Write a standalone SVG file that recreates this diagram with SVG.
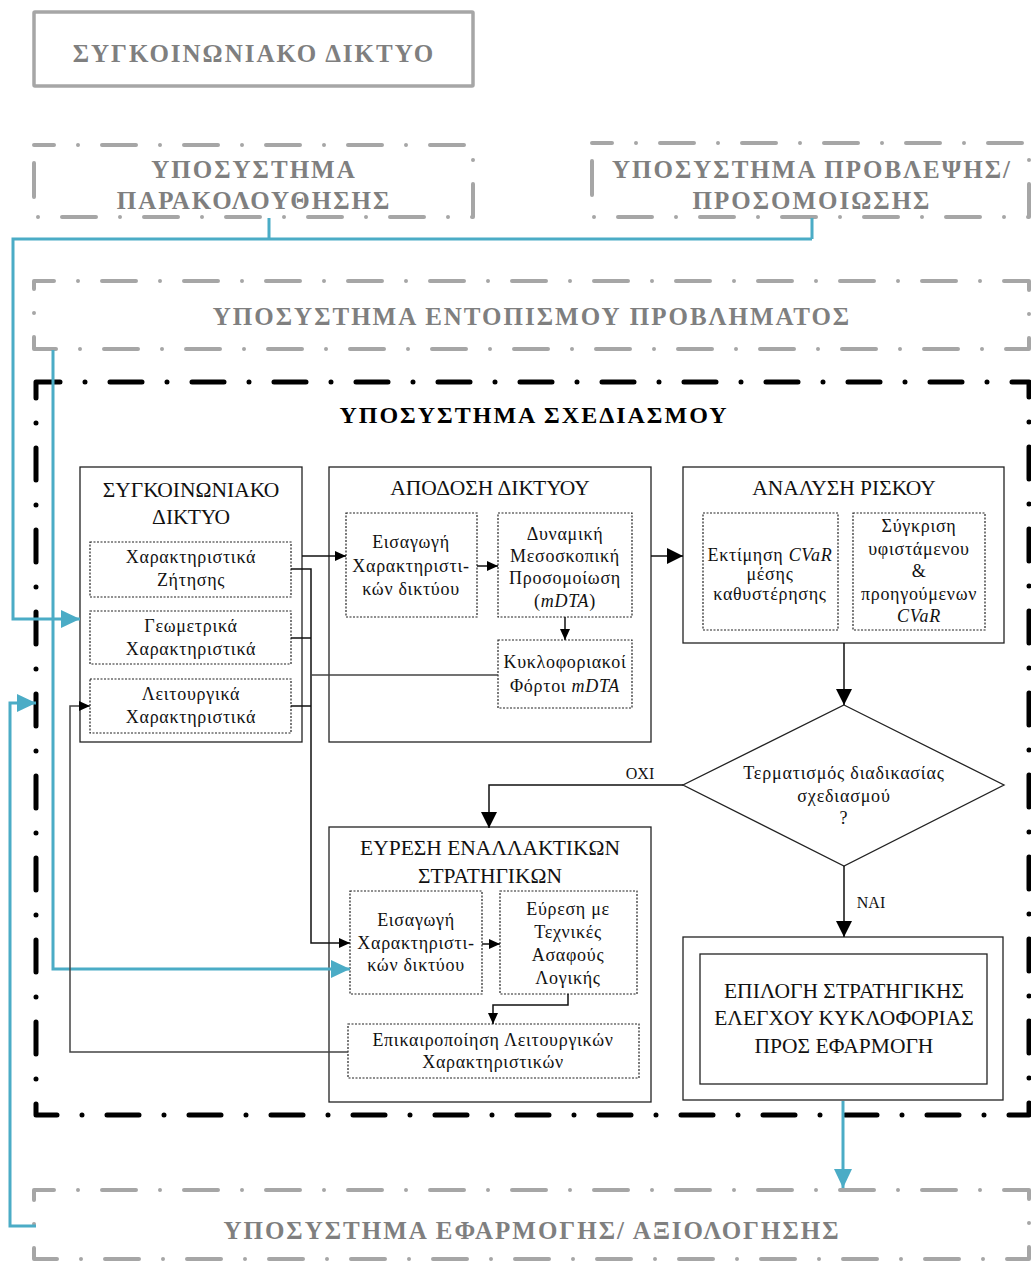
<svg xmlns="http://www.w3.org/2000/svg" width="1031" height="1261" viewBox="0 0 1031 1261">
  <style>
    .sub { fill: none; stroke: #a6a6a6; stroke-width: 4; stroke-dasharray: 34 24 0 24; stroke-linecap: round; stroke-linejoin: round; }
    .plan { fill: none; stroke: #000; stroke-width: 5; stroke-dasharray: 32 25 0 25; stroke-linecap: round; stroke-linejoin: round; }
    .subtxt { font-family: "Liberation Serif", "DejaVu Serif", serif; font-weight: bold; font-size: 25px; letter-spacing: 2px; fill: #7f7f7f; text-anchor: middle; }
    .plantxt { font-family: "Liberation Serif", "DejaVu Serif", serif; font-weight: bold; font-size: 24px; letter-spacing: 2px; fill: #000; text-anchor: middle; }
    .node { fill: #fff; stroke: #222; stroke-width: 1.3; }
    .inner { fill: #fff; stroke: #222; stroke-width: 1.2; stroke-dasharray: 2 1.5; }
    .t20 { font-family: "Liberation Serif", "DejaVu Serif", serif; font-size: 21.5px; fill: #111; text-anchor: middle; }
    .t17 { font-family: "Liberation Serif", "DejaVu Serif", serif; font-size: 18px; letter-spacing: 0.7px; fill: #111; text-anchor: middle; }
    .t18 { font-family: "Liberation Serif", "DejaVu Serif", serif; font-size: 18px; letter-spacing: 0.8px; fill: #111; text-anchor: middle; }
    .t16 { font-family: "Liberation Serif", "DejaVu Serif", serif; font-size: 16px; fill: #111; text-anchor: middle; }
    .it { font-style: italic; }
    .blue { fill: none; stroke: #4bacc6; stroke-width: 3; }
    .wire { fill: none; stroke: #111; stroke-width: 1.5; }
    .wireg { fill: none; stroke: #444; stroke-width: 1.5; }
  </style>
  <defs>
    <marker id="arrS" markerUnits="userSpaceOnUse" viewBox="0 0 11 10" refX="11" refY="5" markerWidth="11" markerHeight="10" orient="auto">
      <path d="M0,0 L11,5 L0,10 z" fill="#000"/>
    </marker>
    <marker id="arrL" markerUnits="userSpaceOnUse" viewBox="0 0 16 16" refX="16" refY="8" markerWidth="16" markerHeight="16" orient="auto">
      <path d="M0,0 L16,8 L0,16 z" fill="#000"/>
    </marker>
    <marker id="arrB" markerUnits="userSpaceOnUse" viewBox="0 0 19 18" refX="19" refY="9" markerWidth="19" markerHeight="18" orient="auto">
      <path d="M0,0 L19,9 L0,18 z" fill="#4bacc6"/>
    </marker>
  </defs>

  <!-- top level subsystems -->
  <g id="network-top">
    <rect x="34" y="12" width="439" height="74" fill="none" stroke="#a6a6a6" stroke-width="3.5" rx="1"/>
    <text class="subtxt" x="254" y="62">ΣΥΓΚΟΙΝΩΝΙΑΚΟ ΔΙΚΤΥΟ</text>
  </g>
  <g id="monitoring">
    <path class="sub" d="M34,145 H473 V217 H34 Z" stroke-dashoffset="14"/>
    <text class="subtxt" x="254" y="178">ΥΠΟΣΥΣΤΗΜΑ</text>
    <text class="subtxt" x="254" y="209">ΠΑΡΑΚΟΛΟΥΘΗΣΗΣ</text>
  </g>
  <g id="prediction">
    <path class="sub" d="M592,143 H1029 V217 H592 Z" stroke-dashoffset="14"/>
    <text class="subtxt" x="812" y="178">ΥΠΟΣΥΣΤΗΜΑ ΠΡΟΒΛΕΨΗΣ/</text>
    <text class="subtxt" x="812" y="209">ΠΡΟΣΟΜΟΙΩΣΗΣ</text>
  </g>
  <g id="detection">
    <path class="sub" d="M34,281 H1029 V349 H34 Z" stroke-dashoffset="14"/>
    <text class="subtxt" x="532" y="325">ΥΠΟΣΥΣΤΗΜΑ ΕΝΤΟΠΙΣΜΟΥ ΠΡΟΒΛΗΜΑΤΟΣ</text>
  </g>
  <g id="planning">
    <path class="plan" d="M36,382 H1029 V1115 H36 Z" stroke-dashoffset="8"/>
    <text class="plantxt" x="534" y="423">ΥΠΟΣΥΣΤΗΜΑ ΣΧΕΔΙΑΣΜΟΥ</text>
  </g>
  <g id="application">
    <path class="sub" d="M34,1190 H1029 V1259 H34 Z" stroke-dashoffset="14"/>
    <text class="subtxt" x="532" y="1239">ΥΠΟΣΥΣΤΗΜΑ ΕΦΑΡΜΟΓΗΣ/ ΑΞΙΟΛΟΓΗΣΗΣ</text>
  </g>

  <!-- planning nodes -->
  <g id="node-network">
    <rect class="node" x="80" y="467" width="222" height="275"/>
    <text class="t20" x="191" y="497">ΣΥΓΚΟΙΝΩΝΙΑΚΟ</text>
    <text class="t20" x="191" y="524">ΔΙΚΤΥΟ</text>
    <rect class="inner" x="90" y="542" width="201" height="55"/>
    <text class="t17" x="191" y="563">Χαρακτηριστικά</text>
    <text class="t17" x="191" y="586">Ζήτησης</text>
    <rect class="inner" x="90" y="611" width="201" height="53"/>
    <text class="t17" x="191" y="632">Γεωμετρικά</text>
    <text class="t17" x="191" y="655">Χαρακτηριστικά</text>
    <rect class="inner" x="90" y="679" width="201" height="54"/>
    <text class="t17" x="191" y="700">Λειτουργικά</text>
    <text class="t17" x="191" y="723">Χαρακτηριστικά</text>
  </g>

  <g id="node-performance">
    <rect class="node" x="329" y="467" width="322" height="275"/>
    <text class="t20" x="490" y="495">ΑΠΟΔΟΣΗ ΔΙΚΤΥΟΥ</text>
    <rect class="inner" x="346" y="513" width="131" height="104"/>
    <text class="t17" x="411" y="548">Εισαγωγή</text>
    <text class="t17" x="411" y="572">Χαρακτηριστι-</text>
    <text class="t17" x="411" y="595">κών δικτύου</text>
    <rect class="inner" x="498" y="513" width="134" height="104"/>
    <text class="t17" x="565" y="540">Δυναμική</text>
    <text class="t17" x="565" y="562">Μεσοσκοπική</text>
    <text class="t17" x="565" y="584">Προσομοίωση</text>
    <text class="t17" x="565" y="607">(<tspan class="it">mDTA</tspan>)</text>
    <rect class="inner" x="498" y="640" width="134" height="68"/>
    <text class="t17" x="565" y="668">Κυκλοφοριακοί</text>
    <text class="t17" x="565" y="692">Φόρτοι <tspan class="it">mDTA</tspan></text>
  </g>

  <g id="node-risk">
    <rect class="node" x="683" y="467" width="321" height="176"/>
    <text class="t20" x="844" y="495">ΑΝΑΛΥΣΗ ΡΙΣΚΟΥ</text>
    <rect class="inner" x="703" y="513" width="135" height="117"/>
    <text class="t17" x="770" y="561">Εκτίμηση <tspan class="it">CVaR</tspan></text>
    <text class="t17" x="770" y="580">μέσης</text>
    <text class="t17" x="770" y="600">καθυστέρησης</text>
    <rect class="inner" x="853" y="513" width="132" height="117"/>
    <text class="t17" x="919" y="532">Σύγκριση</text>
    <text class="t17" x="919" y="555">υφιστάμενου</text>
    <text class="t17" x="919" y="577">&amp;</text>
    <text class="t17" x="919" y="600">προηγούμενων</text>
    <text class="t17" x="919" y="622"><tspan class="it">CVaR</tspan></text>
  </g>

  <g id="node-decision">
    <path d="M844,705 L1004,785 L844,866 L683,785 Z" fill="#fff" stroke="#222" stroke-width="1.3"/>
    <text class="t18" x="844" y="779">Τερματισμός διαδικασίας</text>
    <text class="t18" x="844" y="802">σχεδιασμού</text>
    <text class="t18" x="844" y="824">?</text>
  </g>

  <g id="node-alternatives">
    <rect class="node" x="329" y="827" width="322" height="275"/>
    <text class="t20" x="490" y="855">ΕΥΡΕΣΗ ΕΝΑΛΛΑΚΤΙΚΩΝ</text>
    <text class="t20" x="490" y="883">ΣΤΡΑΤΗΓΙΚΩΝ</text>
    <rect class="inner" x="350" y="891" width="132" height="103"/>
    <text class="t17" x="416" y="926">Εισαγωγή</text>
    <text class="t17" x="416" y="949">Χαρακτηριστι-</text>
    <text class="t17" x="416" y="971">κών δικτύου</text>
    <rect class="inner" x="500" y="891" width="137" height="103"/>
    <text class="t17" x="568" y="915">Εύρεση με</text>
    <text class="t17" x="568" y="938">Τεχνικές</text>
    <text class="t17" x="568" y="961">Ασαφούς</text>
    <text class="t17" x="568" y="984">Λογικής</text>
    <rect class="inner" x="348" y="1024" width="291" height="54"/>
    <text class="t17" x="493" y="1046">Επικαιροποίηση Λειτουργικών</text>
    <text class="t17" x="493" y="1068">Χαρακτηριστικών</text>
  </g>

  <g id="node-selection">
    <rect class="node" x="683" y="937" width="320" height="163"/>
    <rect class="node" x="700" y="954" width="287" height="130"/>
    <text class="t20" x="844" y="998">ΕΠΙΛΟΓΗ ΣΤΡΑΤΗΓΙΚΗΣ</text>
    <text class="t20" x="844" y="1025">ΕΛΕΓΧΟΥ ΚΥΚΛΟΦΟΡΙΑΣ</text>
    <text class="t20" x="844" y="1053">ΠΡΟΣ ΕΦΑΡΜΟΓΗ</text>
  </g>

  <!-- connectors -->
  <g id="connectors">
    <path class="blue" d="M269,218 V239 M812,218 V239"/>
    <path class="blue" d="M812,239 H13 V619 H80" marker-end="url(#arrB)"/>
    <path class="blue" d="M53,350 V969 H350" marker-end="url(#arrB)"/>
    <path class="blue" d="M36,1226 H10 V703 H36" marker-end="url(#arrB)"/>
    <path class="blue" d="M843,1101 V1188" marker-end="url(#arrB)"/>

    <path class="wire" d="M302,556 H346" marker-end="url(#arrS)"/>
    <path class="wire" d="M291,569 H311 V943 H350" marker-end="url(#arrS)"/>
    <path class="wire" d="M291,638 H311 M291,706 H311"/>
    <path class="wireg" d="M498,675 H311"/>
    <path class="wire" d="M477,566 H498" marker-end="url(#arrS)"/>
    <path class="wire" d="M565,617 V640" marker-end="url(#arrS)"/>
    <path class="wire" d="M651,556 H683" marker-end="url(#arrL)"/>
    <path class="wire" d="M844,643 V705" marker-end="url(#arrL)"/>
    <path class="wire" d="M683,785 H489 V828" marker-end="url(#arrL)"/>
    <path class="wire" d="M844,866 V937" marker-end="url(#arrL)"/>
    <path class="wire" d="M482,944 H500" marker-end="url(#arrS)"/>
    <path class="wire" d="M568,994 V1005 H493 V1024" marker-end="url(#arrS)"/>
    <path class="wireg" d="M348,1052 H70 V706 H90" marker-end="url(#arrS)"/>

    <text class="t16" x="640" y="779">ΟΧΙ</text>
    <text class="t16" x="871" y="908">ΝΑΙ</text>
  </g>
</svg>
